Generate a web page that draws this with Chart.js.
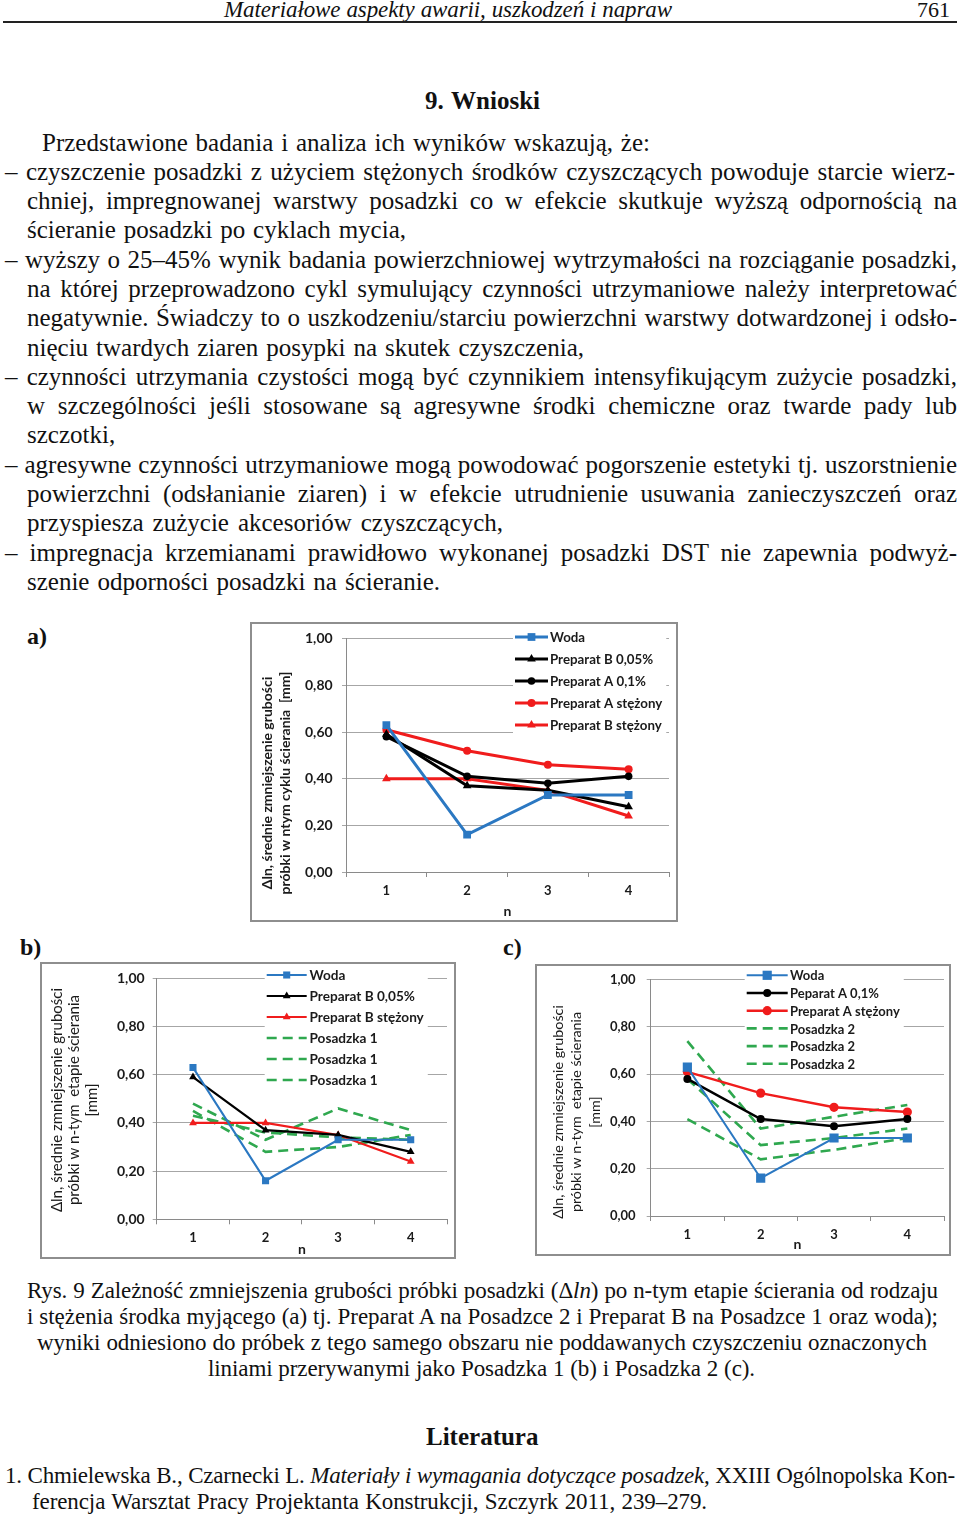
<!DOCTYPE html>
<html>
<head>
<meta charset="utf-8">
<script src="https://cdn.jsdelivr.net/npm/chart.js@4.4.1/dist/chart.umd.min.js"></script>
<style>
body{margin:0;width:960px;height:1516px;background:#fff;position:relative;overflow:hidden;font-family:"Liberation Serif","Times New Roman",serif;color:#111}
.l{position:absolute;text-align:justify;text-align-last:justify;white-space:normal}
.b{font-size:25px;line-height:30px}
.c{font-size:23px;line-height:26px}
.h{font-size:25px;line-height:30px;font-weight:bold}
.lit{font-size:24px;line-height:28px;font-weight:bold;position:absolute}
.ramka{position:absolute;border:2px solid #8e8e8e;background:#fff}
.ramka canvas{display:block}
</style>
</head>
<body>

<div class="l" style="left:224px;top:-3px;width:448px;font-size:23px;line-height:26px;font-style:italic">Materiałowe aspekty awarii, uszkodzeń i napraw</div>
<div class="l" style="left:917px;top:-3px;width:30px;font-size:22px;line-height:26px">761</div>
<div style="position:absolute;left:3px;top:21px;width:954px;height:2px;background:#222"></div>

<div class="l h" style="left:425px;top:86px;width:115px">9. Wnioski</div>

<div id="tekst"></div>

<div class="lit" style="left:27px;top:622px">a)</div>
<div class="lit" style="left:20px;top:933px">b)</div>
<div class="lit" style="left:503px;top:933px">c)</div>

<div class="ramka" style="left:250px;top:622px"><canvas id="wykresA" width="424" height="296"></canvas></div>
<div class="ramka" style="left:40px;top:962px"><canvas id="wykresB" width="412" height="293"></canvas></div>
<div class="ramka" style="left:535px;top:964px"><canvas id="wykresC" width="412" height="288"></canvas></div>

<div id="podpis"></div>

<div class="l h" style="left:426px;top:1422px;width:112px">Literatura</div>
<div class="l c" style="left:5px;top:1463px;width:950px">1. Chmielewska B., Czarnecki L. <i>Materiały i wymagania dotyczące posadzek</i>, XXIII Ogólnopolska Kon-</div>
<div class="l c" style="left:32px;top:1489px;width:675px">ferencja Warsztat Pracy Projektanta Konstrukcji, Szczyrk 2011, 239–279.</div>

<script>
// ---- dane z wykresow ----
const kategorie = ['1', '2', '3', '4'];
const etykietyY = ['0,00', '0,20', '0,40', '0,60', '0,80', '1,00'];

const woda      = [0.63, 0.16, 0.33, 0.33];
const prepB005  = [0.59, 0.37, 0.35, 0.28];
const prepA01   = [0.58, 0.41, 0.38, 0.41];
const prepAstez = [0.61, 0.52, 0.46, 0.44];
const prepBstez = [0.40, 0.40, 0.35, 0.24];

// posadzka 1 (linie przerywane, wykres b)
const posadzka1a = [0.48, 0.33, 0.46, 0.37];
const posadzka1b = [0.45, 0.28, 0.30, 0.35];
const posadzka1c = [0.43, 0.36, 0.34, 0.33];

// posadzka 2 (linie przerywane, wykres c)
const posadzka2a = [0.74, 0.37, 0.42, 0.47];
const posadzka2b = [0.58, 0.30, 0.33, 0.37];
const posadzka2c = [0.41, 0.24, 0.28, 0.33];

// ---- tekst strony ----
const linieTekstu = [
    [42, 143, 608, 'Przedstawione badania i analiza ich wyników wskazują, że:'],
    [5, 172, 950, '– czyszczenie posadzki z użyciem stężonych środków czyszczących powoduje starcie wierz-'],
    [27, 201, 930, 'chniej, impregnowanej warstwy posadzki co w efekcie skutkuje wyższą odpornością na'],
    [27, 230, 379, 'ścieranie posadzki po cyklach mycia,'],
    [5, 260, 952, '– wyższy o 25–45% wynik badania powierzchniowej wytrzymałości na rozciąganie posadzki,'],
    [27, 289, 930, 'na której przeprowadzono cykl symulujący czynności utrzymaniowe należy interpretować'],
    [27, 318, 930, 'negatywnie. Świadczy to o uszkodzeniu/starciu powierzchni warstwy dotwardzonej i odsło-'],
    [27, 348, 557, 'nięciu twardych ziaren posypki na skutek czyszczenia,'],
    [5, 377, 952, '– czynności utrzymania czystości mogą być czynnikiem intensyfikującym zużycie posadzki,'],
    [27, 406, 930, 'w szczególności jeśli stosowane są agresywne środki chemiczne oraz twarde pady lub'],
    [27, 435, 89, 'szczotki,'],
    [5, 465, 952, '– agresywne czynności utrzymaniowe mogą powodować pogorszenie estetyki tj. uszorstnienie'],
    [27, 494, 930, 'powierzchni (odsłanianie ziaren) i w efekcie utrudnienie usuwania zanieczyszczeń oraz'],
    [27, 523, 476, 'przyspiesza zużycie akcesoriów czyszczących,'],
    [5, 553, 952, '– impregnacja krzemianami prawidłowo wykonanej posadzki DST nie zapewnia podwyż-'],
    [27, 582, 413, 'szenie odporności posadzki na ścieranie.']
];

const liniePodpisu = [
    [27, 1292, 911, 'Rys. 9 Zależność zmniejszenia grubości próbki posadzki (Δ<i>ln</i>) po n-tym etapie ścierania od rodzaju'],
    [27, 1318, 911, 'i stężenia środka myjącego (a) tj. Preparat A na Posadzce 2 i Preparat B na Posadzce 1 oraz woda);'],
    [37, 1344, 890, 'wyniki odniesiono do próbek z tego samego obszaru nie poddawanych czyszczeniu oznaczonych'],
    [208, 1370, 547, 'liniami przerywanymi jako Posadzka 1 (b) i Posadzka 2 (c).']
];

function wstawLinie(kontener, linie, klasa, dy) {
    const el = document.getElementById(kontener);
    linie.forEach(l => {
        const d = document.createElement('div');
        d.className = 'l ' + klasa;
        d.style.left = l[0] + 'px';
        d.style.top = (l[1] - dy) + 'px';
        d.style.width = l[2] + 'px';
        d.innerHTML = l[3];
        el.appendChild(d);
    });
}
wstawLinie('tekst', linieTekstu, 'b', 15);
wstawLinie('podpis', liniePodpisu, 'c', 14);

// jesli linia sie zawija - scisnij litery
document.querySelectorAll('.l').forEach(d => {
    const lh = parseFloat(getComputedStyle(d).lineHeight);
    let ls = 0;
    while (d.offsetHeight > lh * 1.5 && ls > -2) {
        ls -= 0.1;
        d.style.letterSpacing = ls + 'px';
    }
});

// ---- kolory ----
const NIEBIESKI = '#2b78c2';
const CZERWONY = '#f01c1c';
const CZARNY = '#000000';
const ZIELONY = '#2fa84f';
const FONT = 'Lato, "Open Sans", sans-serif';

// rysowanie znacznika jak w Chart.js
function znacznik(ctx, styl, r, x, y, kolor) {
    ctx.save();
    ctx.fillStyle = kolor;
    ctx.beginPath();
    if (styl === 'rect') {
        const s = r * Math.SQRT1_2;
        ctx.rect(x - s, y - s, 2 * s, 2 * s);
    } else if (styl === 'triangle') {
        ctx.moveTo(x, y - r);
        ctx.lineTo(x + 0.866 * r, y + 0.5 * r);
        ctx.lineTo(x - 0.866 * r, y + 0.5 * r);
        ctx.closePath();
    } else {
        ctx.arc(x, y, r, 0, Math.PI * 2);
    }
    ctx.fill();
    ctx.restore();
}

// legenda w srodku wykresu (jak w Excelu)
const legendaWewnatrz = {
    id: 'legendaWewnatrz',
    afterDraw(chart, args, o) {
        const ctx = chart.ctx;
        const zb = chart.data.datasets;
        ctx.save();
        ctx.font = o.font;
        let maxW = 0;
        zb.forEach(d => { maxW = Math.max(maxW, ctx.measureText(d.label).width); });
        ctx.fillStyle = '#fff';
        ctx.fillRect(o.x - 2, o.top - o.krok / 2 + 2, o.tx - o.x + maxW + 6, o.krok * zb.length - 4);
        zb.forEach((d, i) => {
            const y = o.top + i * o.krok;
            ctx.save();
            ctx.strokeStyle = d.borderColor;
            ctx.lineWidth = d.borderWidth;
            ctx.setLineDash(d.borderDash || []);
            ctx.beginPath();
            ctx.moveTo(o.x, y);
            ctx.lineTo(o.x + o.dl, y);
            ctx.stroke();
            ctx.restore();
            if (d.pointRadius > 0) {
                znacznik(ctx, d.pointStyle, d.pointRadius, o.x + o.dl / 2, y, d.pointBackgroundColor);
            }
            ctx.fillStyle = '#1a1a1a';
            ctx.textBaseline = 'middle';
            ctx.textAlign = 'left';
            ctx.fillText(d.label, o.tx, y + 1);
        });
        ctx.restore();
    }
};

// pionowy tytul osi y
const tytulOsiY = {
    id: 'tytulOsiY',
    afterDraw(chart, args, o) {
        const ctx = chart.ctx;
        ctx.save();
        ctx.font = o.font;
        ctx.fillStyle = '#1a1a1a';
        ctx.textAlign = 'center';
        ctx.textBaseline = 'middle';
        o.linie.forEach((t, i) => {
            ctx.save();
            ctx.translate(o.xs[i], o.yc);
            ctx.rotate(-Math.PI / 2);
            ctx.fillText(t, 0, 0);
            ctx.restore();
        });
        ctx.restore();
    }
};

function seria(label, dane, kolor, styl, r, grubosc) {
    return {
        label: label, data: dane,
        borderColor: kolor, backgroundColor: kolor,
        pointBackgroundColor: kolor, pointBorderColor: kolor, pointBorderWidth: 0,
        pointStyle: styl, pointRadius: r, borderWidth: grubosc, tension: 0
    };
}
function przerywana(label, dane, grubosc) {
    return {
        label: label, data: dane,
        borderColor: ZIELONY, backgroundColor: ZIELONY,
        pointRadius: 0, borderWidth: grubosc, borderDash: [10, 6], tension: 0
    };
}

// u.pl = lewy brzeg etykiet osi y, u.yw = reszta szerokosci osi
function rysuj(id, zbiory, u) {
    const ctx = document.getElementById(id).getContext('2d');
    return new Chart(ctx, {
        type: 'line',
        data: { labels: kategorie, datasets: zbiory },
        options: {
            responsive: false,
            animation: false,
            devicePixelRatio: 1,
            layout: { autoPadding: false, padding: { top: u.pt, right: u.pr, left: u.pl, bottom: 0 } },
            plugins: {
                legend: { display: false },
                tooltip: { enabled: false },
                legendaWewnatrz: u.legenda,
                tytulOsiY: u.tytul
            },
            scales: {
                x: {
                    offset: true,
                    grid: { display: true, drawOnChartArea: false, offset: true, tickLength: 5, color: '#8a8a8a' },
                    border: { display: true, color: '#8a8a8a' },
                    ticks: { color: '#1a1a1a', font: { family: FONT, weight: 'bold', size: 13 }, padding: 6 },
                    title: { display: true, text: 'n', color: '#1a1a1a',
                             font: { family: FONT, weight: 'bold', size: 14, lineHeight: 1 },
                             padding: { top: 0, bottom: u.nb } },
                    afterFit(s) { s.height = u.xh; }
                },
                y: {
                    min: 0, max: 1,
                    grid: { color: '#a6a6a6', tickLength: 4 },
                    border: { display: true, color: '#8a8a8a' },
                    ticks: {
                        stepSize: 0.2, padding: 0, crossAlign: 'far', color: '#1a1a1a',
                        font: { family: FONT, weight: 'bold', size: u.tf },
                        callback: (v, i) => etykietyY[i]
                    },
                    afterFit(s) { s.width = u.yw; }
                }
            }
        },
        plugins: [legendaWewnatrz, tytulOsiY]
    });
}

// wykres a
rysuj('wykresA', [
    seria('Woda', woda, NIEBIESKI, 'rect', 5.5, 3),
    seria('Preparat B 0,05%', prepB005, CZARNY, 'triangle', 5, 3),
    seria('Preparat A 0,1%', prepA01, CZARNY, 'circle', 3.8, 3),
    seria('Preparat A stężony', prepAstez, CZERWONY, 'circle', 4, 3),
    seria('Preparat B stężony', prepBstez, CZERWONY, 'triangle', 5, 3)
], {
    pt: 14.7, pr: 7, pl: 53, yw: 41, xh: 48, tf: 14, nb: 2,
    legenda: { x: 263, dl: 33, tx: 298, top: 13, krok: 22, font: 'bold 13.3px ' + FONT },
    tytul: { linie: ['Δln, średnie zmniejszenie grubości', 'próbki w ntym cyklu ścierania  [mm]'],
             xs: [15, 33], yc: 159, font: 'bold 14px ' + FONT }
});

// wykres b
rysuj('wykresB', [
    seria('Woda', woda, NIEBIESKI, 'rect', 5, 2.2),
    seria('Preparat B 0,05%', prepB005, CZARNY, 'triangle', 4.5, 2.2),
    seria('Preparat B stężony', prepBstez, CZERWONY, 'triangle', 4.5, 2.2),
    przerywana('Posadzka 1', posadzka1a, 2.6),
    przerywana('Posadzka 1', posadzka1b, 2.6),
    przerywana('Posadzka 1', posadzka1c, 2.6)
], {
    pt: 14.3, pr: 7, pl: 75, yw: 39.7, xh: 37.7, tf: 14, nb: 1,
    legenda: { x: 224.7, dl: 40, tx: 267.5, top: 11, krok: 21, font: 'bold 13.6px ' + FONT },
    tytul: { linie: ['Δln, średnie zmniejszenie grubości', 'próbki w n-tym  etapie ścierania', '[mm]'],
             xs: [15, 32, 50], yc: 136, font: '15px ' + FONT }
});

// wykres c
rysuj('wykresC', [
    seria('Woda', woda, NIEBIESKI, 'rect', 6.5, 2),
    seria('Peparat A 0,1%', prepA01, CZARNY, 'circle', 4, 2.5),
    seria('Preparat A stężony', prepAstez, CZERWONY, 'circle', 4.6, 2.5),
    przerywana('Posadzka 2', posadzka2a, 2.6),
    przerywana('Posadzka 2', posadzka2b, 2.6),
    przerywana('Posadzka 2', posadzka2c, 2.6)
], {
    pt: 13.7, pr: 5, pl: 73, yw: 40.7, xh: 38, tf: 13, nb: 3,
    legenda: { x: 209.7, dl: 41, tx: 253, top: 9.3, krok: 17.7, font: 'bold 13px ' + FONT },
    tytul: { linie: ['Δln, średnie zmniejszenie grubości', 'próbki w n-tym  etapie ścierania', '[mm]'],
             xs: [21.3, 39.7, 58], yc: 146, font: '14.3px ' + FONT }
});
</script>
</body>
</html>
